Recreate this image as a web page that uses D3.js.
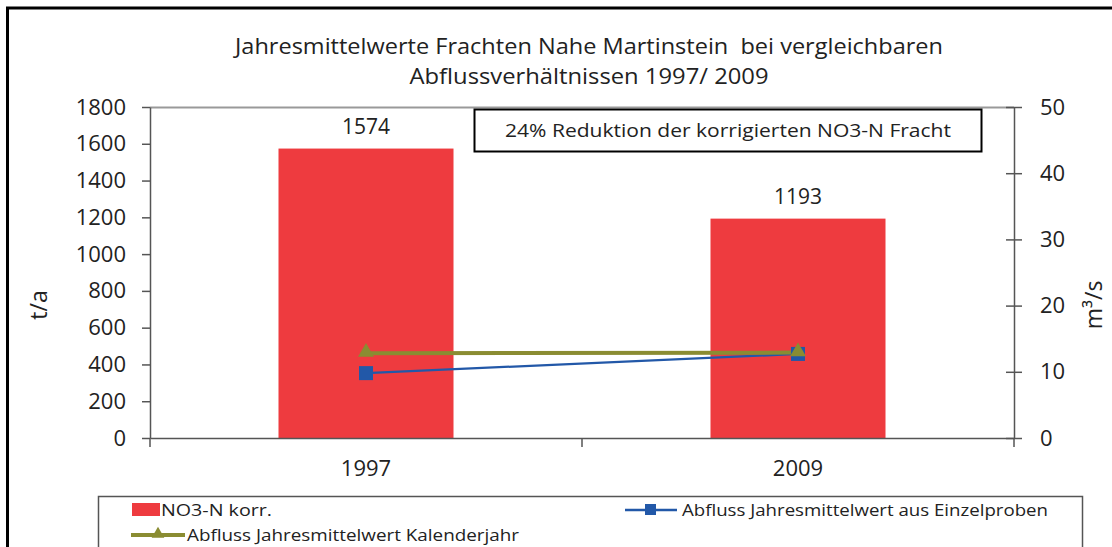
<!DOCTYPE html>
<html><head><meta charset="utf-8">
<script src="https://cdn.jsdelivr.net/npm/d3@7"></script>
<style>body{margin:0;background:#fff}svg{display:block}text{font-family:"Open Sans","Liberation Sans",sans-serif;fill:#222;white-space:pre}</style>
</head><body>
<svg id="c" width="1112" height="547"></svg>
<script>
const categories = ["1997", "2009"];
const no3Values = [1574, 1193];
const einzelproben = [9.8, 12.7];
const kalenderjahr = [12.8, 12.9];
const leftTicks = [0, 200, 400, 600, 800, 1000, 1200, 1400, 1600, 1800];
const rightTicks = [0, 10, 20, 30, 40, 50];
const titleLines = ["Jahresmittelwerte Frachten Nahe Martinstein  bei vergleichbaren", "Abflussverhältnissen 1997/ 2009"];
const annotation = "24% Reduktion der korrigierten NO3-N Fracht";
const legendNames = ["NO3-N korr.", "Abfluss Jahresmittelwert aus Einzelproben", "Abfluss Jahresmittelwert Kalenderjahr"];

const RED = "#ee3b3f", BLUE = "#2258a8", GREEN = "#8a8c32", AX = "#555";
const svg = d3.select("#c");
const L = 150, R = 1014, T = 107, B = 438;

// outer frame (only top and left visible)
svg.append("path").attr("d", "M7.5,548 V8 H1113").attr("fill", "none").attr("stroke", "#000").attr("stroke-width", 3);

const x = d3.scaleBand().domain(categories).range([L, R]).paddingInner(0).paddingOuter(0);
const y = d3.scaleLinear().domain([0, 1800]).range([B, T]);
const y2 = d3.scaleLinear().domain([0, 50]).range([B, T]);

// title
titleLines.forEach((t, i) => {
  svg.append("text").attr("x", 589).attr("y", 54 + i * 30).attr("text-anchor", "middle")
    .attr("font-size", 21).attr("textLength", i === 0 ? 708 : 359).attr("lengthAdjust", "spacingAndGlyphs").text(t);
});

// top plot border
svg.append("line").attr("x1", L).attr("x2", R).attr("y1", T + 0.5).attr("y2", T + 0.5).attr("stroke", "#999").attr("stroke-width", 2);

// bars
const bw = 175;
svg.selectAll("rect.bar").data(categories).join("rect").attr("class", "bar")
  .attr("x", d => x(d) + x.bandwidth() / 2 - bw / 2).attr("width", bw)
  .attr("y", (d, i) => y(no3Values[i])).attr("height", (d, i) => B - y(no3Values[i]))
  .attr("fill", RED);
svg.selectAll("text.bl").data(categories).join("text").attr("class", "bl")
  .attr("x", d => x(d) + x.bandwidth() / 2).attr("y", (d, i) => y(no3Values[i]) - 15)
  .attr("text-anchor", "middle").attr("font-size", 21).text((d, i) => no3Values[i]);

// left axis
const la = svg.append("g").attr("transform", `translate(${L},0)`)
  .call(d3.axisLeft(y).tickValues(leftTicks).tickFormat(d3.format("d")).tickSize(8).tickPadding(16).tickSizeOuter(0));
la.select(".domain").attr("stroke", AX).attr("stroke-width", 1.5);
la.selectAll(".tick line").attr("stroke", AX).attr("stroke-width", 1.5);
la.selectAll(".tick text").attr("font-size", 22).attr("fill", "#222").attr("font-family", "Open Sans");

// right axis
const ra = svg.append("g").attr("transform", `translate(${R},0)`)
  .call(d3.axisRight(y2).tickValues(rightTicks).tickFormat(d3.format("d")).tickSize(8).tickPadding(18).tickSizeOuter(0));
ra.select(".domain").attr("stroke", AX).attr("stroke-width", 1.5);
ra.selectAll(".tick line").attr("stroke", AX).attr("stroke-width", 1.5).attr("x1", -8);
ra.selectAll(".tick text").attr("font-size", 22).attr("fill", "#222").attr("font-family", "Open Sans");

// bottom axis
const ba = svg.append("g").attr("transform", `translate(0,${B})`)
  .call(d3.axisBottom(x).tickSize(0).tickPadding(22).tickSizeOuter(0));
ba.select(".domain").attr("stroke", AX).attr("stroke-width", 1.5);
ba.selectAll(".tick line").remove();
ba.selectAll(".tick text").attr("font-size", 22).attr("fill", "#222").attr("font-family", "Open Sans");
const bounds = [L, x(categories[1]), R];
svg.selectAll("line.xt").data(bounds).join("line").attr("class", "xt")
  .attr("x1", d => d).attr("x2", d => d).attr("y1", B).attr("y2", B + 9).attr("stroke", AX).attr("stroke-width", 1.5);

// axis titles
svg.append("text").attr("transform", "translate(47,305) rotate(-90)").attr("text-anchor", "middle").attr("font-size", 23).text("t/a");
svg.append("text").attr("transform", "translate(1102,305) rotate(-90)").attr("text-anchor", "middle").attr("font-size", 23).text("m³/s");

// lines
const cx = d => x(d) + x.bandwidth() / 2;
const lineGen = vals => d3.line().x((d, i) => cx(categories[i])).y((d, i) => y2(vals[i]))(vals);
svg.append("path").attr("d", lineGen(einzelproben)).attr("fill", "none").attr("stroke", BLUE).attr("stroke-width", 2.2);
svg.append("path").attr("d", lineGen(kalenderjahr)).attr("fill", "none").attr("stroke", GREEN).attr("stroke-width", 4);
svg.selectAll("rect.m").data(einzelproben).join("rect").attr("class", "m")
  .attr("x", (d, i) => cx(categories[i]) - 7).attr("y", d => y2(d) - 7).attr("width", 14).attr("height", 14).attr("fill", BLUE);
const tri = d3.symbol().type(d3.symbolTriangle).size(110);
svg.selectAll("path.t").data(kalenderjahr).join("path").attr("class", "t")
  .attr("d", tri).attr("transform", (d, i) => `translate(${cx(categories[i])},${y2(d) - 1})`).attr("fill", GREEN);

// annotation box
svg.append("rect").attr("x", 474.5).attr("y", 109.5).attr("width", 507).attr("height", 42).attr("fill", "#fff").attr("stroke", "#000").attr("stroke-width", 2);
svg.append("text").attr("x", 728).attr("y", 137).attr("text-anchor", "middle").attr("font-size", 19)
  .attr("textLength", 446).attr("lengthAdjust", "spacingAndGlyphs").text(annotation);

// legend
svg.append("rect").attr("x", 98.5).attr("y", 496.5).attr("width", 984).attr("height", 60).attr("fill", "#fff").attr("stroke", AX).attr("stroke-width", 1.5);
svg.append("rect").attr("x", 132).attr("y", 503).attr("width", 28).attr("height", 13).attr("fill", RED);
svg.append("text").attr("x", 161).attr("y", 516).attr("font-size", 17).attr("textLength", 111).attr("lengthAdjust", "spacingAndGlyphs").text(legendNames[0]);
svg.append("line").attr("x1", 625).attr("x2", 677).attr("y1", 510).attr("y2", 510).attr("stroke", BLUE).attr("stroke-width", 2.5);
svg.append("rect").attr("x", 645).attr("y", 504).attr("width", 11).attr("height", 11).attr("fill", BLUE);
svg.append("text").attr("x", 682).attr("y", 516).attr("font-size", 17).attr("textLength", 366).attr("lengthAdjust", "spacingAndGlyphs").text(legendNames[1]);
svg.append("line").attr("x1", 131).attr("x2", 185).attr("y1", 535).attr("y2", 535).attr("stroke", GREEN).attr("stroke-width", 4);
svg.append("path").attr("d", d3.symbol().type(d3.symbolTriangle).size(70)).attr("transform", "translate(158,534)").attr("fill", GREEN);
svg.append("text").attr("x", 187).attr("y", 541).attr("font-size", 17).attr("textLength", 332).attr("lengthAdjust", "spacingAndGlyphs").text(legendNames[2]);
</script>
</body></html>
